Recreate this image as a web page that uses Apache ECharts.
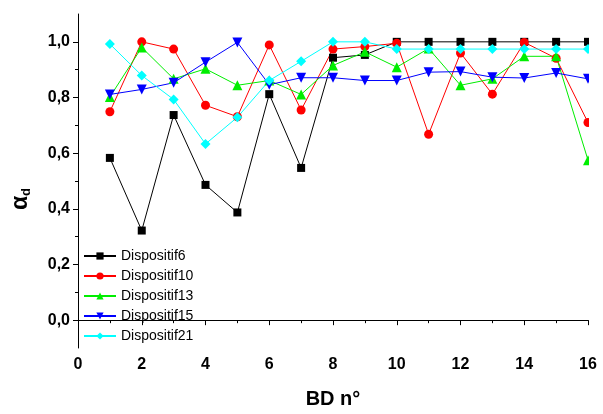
<!DOCTYPE html>
<html>
<head>
<meta charset="utf-8">
<script src="https://cdn.jsdelivr.net/npm/echarts@6/dist/echarts.min.js"></script>
<style>html,body{margin:0;padding:0;background:#fff}#c{width:603px;height:414px}</style>
</head>
<body>
<div id="c"></div>
<script>
const bdNumbers = [1,2,3,4,5,6,7,8,9,10,11,12,13,14,15,16];
const dispositif6  = [0.583,0.322,0.737,0.486,0.387,0.812,0.547,0.943,0.953,1.0,1.0,1.0,1.0,1.0,1.0,1.0];
const dispositif10 = [0.749,1.0,0.974,0.772,0.731,0.989,0.755,0.974,0.983,0.995,0.668,0.96,0.812,0.998,0.941,0.71];
const dispositif13 = [0.802,0.98,0.867,0.903,0.844,0.861,0.811,0.915,0.964,0.909,0.976,0.844,0.867,0.948,0.948,0.575];
const dispositif15 = [0.811,0.829,0.853,0.927,0.998,0.846,0.871,0.871,0.861,0.861,0.891,0.893,0.873,0.87,0.888,0.867];
const dispositif21 = [0.992,0.879,0.793,0.633,0.729,0.861,0.93,1.0,1.0,0.974,0.974,0.974,0.974,0.974,0.974,0.974];
const xTicks = [0,2,4,6,8,10,12,14,16];
const yLabels = [0,0.2,0.4,0.6,0.8,1.0];
const yMinor = [0.1,0.3,0.5,0.7,0.9];

const seriesDefs = [
  {name:'Dispositif6', data:dispositif6, color:'#000000', symbol:'rect', size:8, rot:0},
  {name:'Dispositif10', data:dispositif10, color:'#ff0000', symbol:'circle', size:9, rot:0},
  {name:'Dispositif13', data:dispositif13, color:'#00ee00', symbol:'triangle', size:10, rot:0},
  {name:'Dispositif15', data:dispositif15, color:'#0000ff', symbol:'triangle', size:10, rot:180},
  {name:'Dispositif21', data:dispositif21, color:'#00ffff', symbol:'diamond', size:10, rot:0}
];

const chart = echarts.init(document.getElementById('c'), null, {renderer:'canvas'});
const fmt = v => (Math.round(v*10)/10).toFixed(1).replace('.', ',');
chart.setOption({
  animation:false,
  backgroundColor:'#ffffff',
  grid:{left:78, right:15, top:14, bottom:61},
  legend:{
    orient:'vertical', left:78, top:244, itemWidth:32, itemHeight:9, itemGap:6,
    textStyle:{fontFamily:'Liberation Sans, Arial', fontSize:14, color:'#000'},
    data: seriesDefs.map(s=>s.name)
  },
  xAxis:{
    type:'value', min:0, max:16, interval:2,
    axisLine:{lineStyle:{color:'#000', width:1}},
    axisTick:{length:5, lineStyle:{color:'#000'}},
    minorTick:{show:true, splitNumber:2, length:3, lineStyle:{color:'#000'}},
    splitLine:{show:false},
    axisLabel:{margin:9, fontFamily:'Liberation Sans, Arial', fontWeight:'bold', fontSize:16, color:'#000'},
    name:'BD n°', nameLocation:'middle', nameGap:41,
    nameTextStyle:{fontFamily:'Liberation Sans, Arial', fontWeight:'bold', fontSize:20, color:'#000'}
  },
  yAxis:[{
    type:'value', min:-0.1, max:1.1,
    axisLine:{show:true, lineStyle:{color:'#000', width:1}},
    axisTick:{show:true, length:5, customValues:yLabels, lineStyle:{color:'#000'}},
    splitLine:{show:false},
    axisLabel:{customValues:yLabels, margin:8, formatter:fmt, fontFamily:'Liberation Sans, Arial', fontWeight:'bold', fontSize:16, color:'#000'}
  },{
    type:'value', min:-0.1, max:1.1, position:'left',
    axisLine:{show:false},
    axisTick:{show:true, length:3, customValues:yMinor, lineStyle:{color:'#000'}},
    axisLabel:{show:false}, splitLine:{show:false}
  }],
  series: seriesDefs.map(s=>({
    name:s.name, type:'line', yAxisIndex:0,
    data: bdNumbers.map((x,i)=>[x, s.data[i]]),
    symbol:s.symbol, symbolSize:s.size, symbolRotate:s.rot, showAllSymbol:true,
    clip:false,
    lineStyle:{color:s.color, width:1},
    itemStyle:{color:s.color, borderWidth:0},
    emphasis:{disabled:true}
  })),
  graphic:[
    {type:'rect', z:100, shape:{x:589, y:0, width:20, height:350}, style:{fill:'#fff'}},
    {type:'rect', z:100, shape:{x:597, y:356, width:10, height:30}, style:{fill:'#fff'}},
    {type:'text', z:100, x:21, y:199, rotation:Math.PI/2,
      style:{text:'{a|α}{b|d}', align:'center', verticalAlign:'middle',
        rich:{a:{fontFamily:'Liberation Sans, Arial', fontWeight:'bold', fontSize:23, fill:'#000', lineHeight:24},
              b:{fontFamily:'Liberation Sans, Arial', fontWeight:'bold', fontSize:13, fill:'#000', lineHeight:24, verticalAlign:'bottom', padding:[9,0,0,0]}}}}
  ]
});
</script>
</body>
</html>
